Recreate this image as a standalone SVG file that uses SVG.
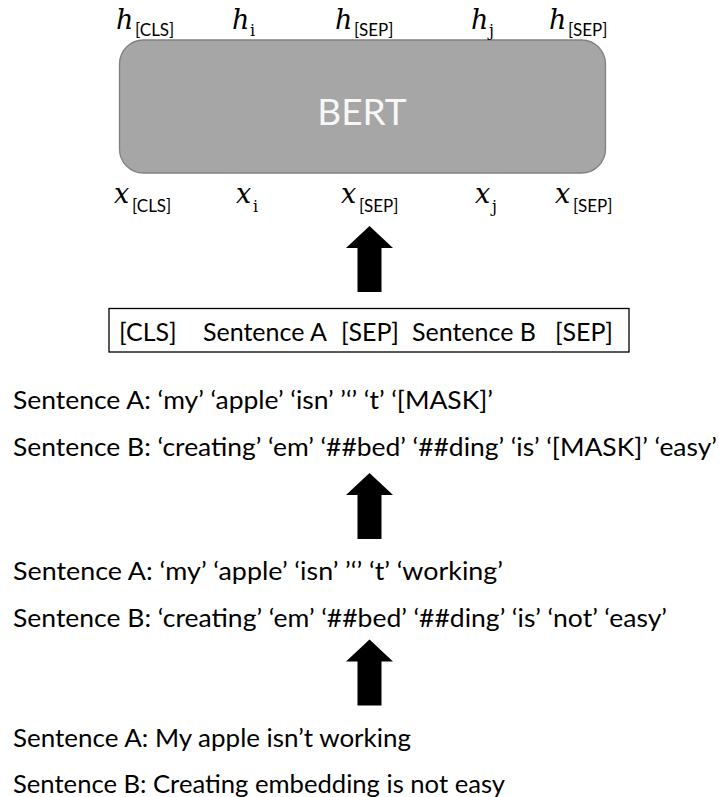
<svg xmlns="http://www.w3.org/2000/svg" xmlns:xlink="http://www.w3.org/1999/xlink" width="719" height="797" viewBox="0 0 719 797">
  <style>
    .txt { font-family: Lato, "Open Sans", "Liberation Sans", sans-serif; font-size: 25px; fill: #000; }
    .math { font-family: "DejaVu Serif", "Liberation Serif", serif; font-style: italic; font-size: 27px; fill: #000; }
    .sub { font-family: Lato, "Open Sans", "Liberation Sans", sans-serif; font-size: 17px; fill: #000; }
    .subi { font-family: "DejaVu Serif", "Liberation Serif", serif; font-size: 16px; fill: #000; }
    .bert-label { font-family: Lato, "Open Sans", "Liberation Sans", sans-serif; font-size: 37px; fill: #f7f7f7; }
    .block-arrow { fill: #000; }
  </style>
  <defs>
    <!-- thick upward block arrow, origin at the tip -->
    <path id="up-arrow" d="M0,0 L23.5,22 L12,22 L12,66 L-12,66 L-12,22 L-23.5,22 Z"/>
  </defs>

  <rect width="719" height="797" fill="#ffffff"/>

  <!-- encoder block -->
  <g id="bert">
    <rect x="119.5" y="40" width="486" height="133" rx="24" ry="24" fill="#a6a6a6" stroke="#808080" stroke-width="1.3"/>
    <text class="bert-label" x="362" y="125" text-anchor="middle">BERT</text>
  </g>

  <!-- output states -->
  <g id="outputs">
    <text class="math" x="116" y="29">h</text><text class="sub" x="135" y="36">[CLS]</text>
    <text class="math" x="232" y="29">h</text><text class="subi" x="250" y="36">i</text>
    <text class="math" x="335" y="29">h</text><text class="sub" x="354" y="36">[SEP]</text>
    <text class="math" x="471" y="29">h</text><text class="subi" x="489" y="36">j</text>
    <text class="math" x="549" y="29">h</text><text class="sub" x="568" y="36">[SEP]</text>
  </g>

  <!-- input embeddings -->
  <g id="inputs">
    <text class="math" x="114" y="203">x</text><text class="sub" x="132" y="212">[CLS]</text>
    <text class="math" x="236" y="203">x</text><text class="subi" x="253" y="212">i</text>
    <text class="math" x="341" y="203">x</text><text class="sub" x="359" y="212">[SEP]</text>
    <text class="math" x="475" y="203">x</text><text class="subi" x="492" y="212">j</text>
    <text class="math" x="555" y="203">x</text><text class="sub" x="573" y="212">[SEP]</text>
  </g>

  <!-- packed input sequence -->
  <g id="sequence">
    <rect x="109" y="308.5" width="520" height="43.5" fill="#ffffff" stroke="#000" stroke-width="1.3"/>
    <text class="txt" y="341"><tspan x="119">[CLS]</tspan><tspan x="203">Sentence A</tspan><tspan x="341">[SEP]</tspan><tspan x="412">Sentence B</tspan><tspan x="555">[SEP]</tspan></text>
  </g>

  <!-- masked wordpiece tokens -->
  <g id="masked-tokens">
    <text class="txt" x="13" y="409" textLength="480" lengthAdjust="spacingAndGlyphs">Sentence A: ‘my’ ‘apple’ ‘isn’ ’‘’ ‘t’ ‘[MASK]’</text>
    <text class="txt" x="13" y="456" textLength="704" lengthAdjust="spacingAndGlyphs">Sentence B: ‘creating’ ‘em’ ‘##bed’ ‘##ding’ ‘is’ ‘[MASK]’ ‘easy’</text>
  </g>

  <!-- wordpiece tokens -->
  <g id="tokens">
    <text class="txt" x="13" y="580" textLength="490" lengthAdjust="spacingAndGlyphs">Sentence A: ‘my’ ‘apple’ ‘isn’ ’‘’ ‘t’ ‘working’</text>
    <text class="txt" x="13" y="627" textLength="654" lengthAdjust="spacingAndGlyphs">Sentence B: ‘creating’ ‘em’ ‘##bed’ ‘##ding’ ‘is’ ‘not’ ‘easy’</text>
  </g>

  <!-- raw sentences -->
  <g id="raw-sentences">
    <text class="txt" x="13" y="747" textLength="398" lengthAdjust="spacingAndGlyphs">Sentence A: My apple isn’t working</text>
    <text class="txt" x="13" y="793" textLength="492" lengthAdjust="spacingAndGlyphs">Sentence B: Creating embedding is not easy</text>
  </g>

  <!-- flow arrows -->
  <g id="connectors" class="block-arrow">
    <use xlink:href="#up-arrow" href="#up-arrow" x="369.5" y="226"/>
    <use xlink:href="#up-arrow" href="#up-arrow" x="369.5" y="473"/>
    <use xlink:href="#up-arrow" href="#up-arrow" x="369.5" y="639.5"/>
  </g>
</svg>
